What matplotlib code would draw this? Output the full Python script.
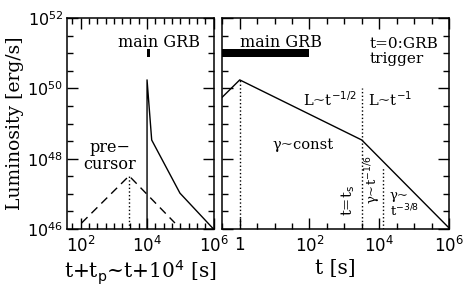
import numpy as np
import matplotlib.pyplot as plt
from matplotlib.ticker import FixedLocator, NullFormatter

plt.rcParams['font.family'] = 'DejaVu Serif'
plt.rcParams['mathtext.fontset'] = 'dejavusans'

# right panel: light curve vs time since trigger [s]
t_curve = [10**-0.5, 1.0, 10**3.5, 1e6]
L_curve = [10**49.75, 10**50.24, 10**48.53, 10**46.03]

# left panel: same curve vs t + t_p
x_main = [1e4, 1e4, 10**4.14, 10**4.99, 1e6]
L_main = [1e46, 10**50.24, 10**48.53, 10**47.02, 1e46]

# precursor (dashed triangle)
x_pre = [10**2.03, 10**3.46, 10**4.84]
L_pre = [10**46.17, 10**47.51, 10**46.17]

# main GRB duration bars
grb_x_left = [1e4, 10**4.1]
grb_x_right = [10**-0.5, 1e2]
grb_L = [10**50.89, 10**51.12]

# dotted vertical markers on the right panel
t_marks = [1.0, 10**3.5, 10**4.11]
L_marks_top = [10**50.24, 10**50.0, 10**47.73]

y_ticks = [1e46, 1e48, 1e50, 1e52]
y_ticklabels = ['$10^{46}$', '$10^{48}$', '$10^{50}$', '$10^{52}$']
xl_ticks = [1e2, 1e4, 1e6]
xl_ticklabels = ['$10^{2}$', '$10^{4}$', '$10^{6}$']
xr_ticks = [1, 1e2, 1e4, 1e6]
xr_ticklabels = ['$1$', '$10^{2}$', '$10^{4}$', '$10^{6}$']

W, H = 463, 289
fig = plt.figure(figsize=(W / 100, H / 100), dpi=100)
axL = fig.add_axes([67.3 / W, 1 - 229 / H, 146.2 / W, 211 / H])
axR = fig.add_axes([222.3 / W, 1 - 229 / H, 226.7 / W, 211 / H])


def style(ax, xlim, xmin_exp):
    ax.set_xscale('log')
    ax.set_yscale('log')
    ax.set_xlim(*xlim)
    ax.set_ylim(1e46, 1e52)
    ax.xaxis.set_minor_locator(FixedLocator(10.0 ** xmin_exp))
    ax.yaxis.set_major_locator(FixedLocator(y_ticks))
    ax.yaxis.set_minor_locator(FixedLocator(10.0 ** np.arange(46, 52.01, 0.5)))
    ax.xaxis.set_minor_formatter(NullFormatter())
    ax.yaxis.set_minor_formatter(NullFormatter())
    ax.tick_params(which='both', direction='in', top=True, right=True,
                   width=1.0, labelsize=12, labelfontfamily='DejaVu Sans')
    ax.tick_params(which='major', length=8)
    ax.tick_params(which='minor', length=4.5)
    ax.tick_params(axis='x', pad=5)
    ax.tick_params(axis='y', pad=3)
    for s in ax.spines.values():
        s.set_linewidth(1.1)


style(axL, (10**1.6, 1e6), np.arange(1.75, 6, 0.25))
axL.xaxis.set_major_locator(FixedLocator(xl_ticks))
axL.set_xticklabels(xl_ticklabels)
axL.set_yticklabels(y_ticklabels)
axL.tick_params(axis='y', labelsize=11.5)

style(axR, (10**-0.5, 1e6), np.arange(-0.5, 6.01, 0.5))
axR.xaxis.set_major_locator(FixedLocator(xr_ticks))
axR.set_xticklabels(xr_ticklabels)
axR.set_yticklabels([])

lw = 1.0
# left panel
axL.plot(x_main, L_main, color='black', lw=lw)
axL.plot(x_pre, L_pre, color='black', lw=lw, ls=(0, (6, 4)))
axL.plot([x_pre[1], x_pre[1]], [1e46, L_pre[1]], color='black', lw=lw, ls=':')
axL.fill_between(grb_x_left, grb_L[0], grb_L[1], color='black', lw=0)
axL.text(0.627, 0.886, 'main GRB', transform=axL.transAxes,
         ha='center', va='center', fontsize=11.5)
axL.text(0.292, 0.344, 'pre\u2212\ncursor', transform=axL.transAxes,
         ha='center', va='center', fontsize=11.5, linespacing=1.0)
fig.text(15 / W, 1 - 123 / H, 'Luminosity [erg/s]', rotation=90,
         ha='center', va='center', fontsize=13.5)
axL.set_xlabel(r't+t$_{\rm p}$~t+10$^{4}$ [s]', fontsize=14.5, labelpad=2)

# right panel
axR.plot(t_curve, L_curve, color='black', lw=lw)
for t, top in zip(t_marks, L_marks_top):
    axR.plot([t, t], [1e46, top], color='black', lw=lw, ls=':')
axR.fill_between(grb_x_right, grb_L[0], grb_L[1], color='black', lw=0)
axR.text(0.261, 0.882, 'main GRB', transform=axR.transAxes,
         ha='center', va='center', fontsize=11.5)
axR.text(0.651, 0.841, 't=0:GRB\ntrigger', transform=axR.transAxes,
         ha='left', va='center', fontsize=11, linespacing=1.1)
axR.text(0.475, 0.611, r'L~t$^{-1/2}$', transform=axR.transAxes,
         ha='center', va='center', fontsize=10.5)
axR.text(0.74, 0.611, r'L~t$^{-1}$', transform=axR.transAxes,
         ha='center', va='center', fontsize=10.5)
axR.text(0.356, 0.398, '\u03b3~const', transform=axR.transAxes,
         ha='center', va='center', fontsize=10.5)
axR.text(0.554, 0.137, r't=t$_{\rm s}$', transform=axR.transAxes,
         ha='center', va='center', fontsize=10.5, rotation=90)
axR.text(0.665, 0.232, '\u03b3~t$^{-1/6}$', transform=axR.transAxes,
         ha='center', va='center', fontsize=9.5, rotation=90)
axR.text(0.739, 0.118, '\u03b3~\nt$^{-3/8}$', transform=axR.transAxes,
         ha='left', va='center', fontsize=9.5, linespacing=1.0)
axR.set_xlabel('t [s]', fontsize=14.5, labelpad=2)

fig.savefig('out.png', dpi=100)
